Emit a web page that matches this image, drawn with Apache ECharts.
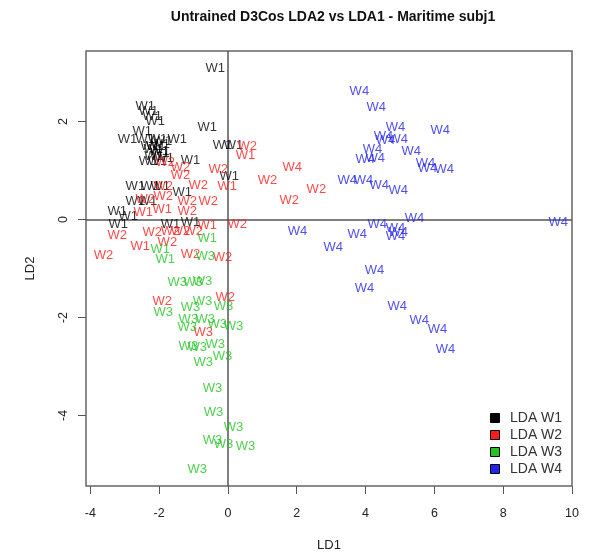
<!DOCTYPE html>
<html>
<head>
<meta charset="utf-8">
<script src="https://cdn.jsdelivr.net/npm/echarts@6/dist/echarts.min.js"></script>
<style>
html,body{margin:0;padding:0;background:#fff;}
#chart{width:593px;height:553px;}
</style>
</head>
<body>
<div id="chart"></div>
<script>
// ---- data: [LD1, LD2, text label] grouped by predicted LDA class (colour) ----
const titleText = 'Untrained D3Cos LDA2 vs LDA1 - Maritime subj1';
const seriesNames = ['LDA W1', 'LDA W2', 'LDA W3', 'LDA W4'];
const xTicks = [-4, -2, 0, 2, 4, 6, 8, 10];
const yTicks = [-4, -2, 0, 2];

const ldaW1 = [
  [-0.37, 3.09, 'W1'], [-2.40, 2.31, 'W1'], [-2.31, 2.21, 'W1'], [-2.20, 2.11, 'W1'],
  [-2.11, 2.01, 'W1'], [-0.60, 1.88, 'W1'], [-2.49, 1.80, 'W1'], [-2.92, 1.64, 'W1'],
  [-2.40, 1.64, 'W1'], [-2.05, 1.64, 'W1'], [-1.47, 1.64, 'W1'], [-2.26, 1.49, 'W1'],
  [-2.17, 1.43, 'W1'], [-1.97, 1.54, 'W1'], [-0.16, 1.51, 'W1'], [0.16, 1.51, 'W1'],
  [-2.31, 1.19, 'W1'], [-2.05, 1.19, 'W1'], [-1.09, 1.21, 'W1'], [-1.97, 1.35, 'W1'],
  [0.04, 0.88, 'W1'], [-2.69, 0.68, 'W1'], [-2.26, 0.68, 'W1'], [-1.97, 0.68, 'W1'],
  [-1.33, 0.55, 'W1'], [-3.22, 0.17, 'W1'], [-2.90, 0.06, 'W1'], [-3.19, -0.10, 'W1'],
  [-1.67, -0.10, 'W1'], [-1.09, -0.06, 'W1'], [-2.69, 0.37, 'W1'], [-2.34, 0.37, 'W1'],
  [-2.10, 1.50, 'W1'], [-2.00, 1.40, 'W1'], [-2.15, 1.28, 'W1'], [-1.90, 1.60, 'W1'],
  [-1.85, 1.25, 'W1']
];
const ldaW2 = [
  [0.56, 1.49, 'W2'], [0.51, 1.31, 'W1'], [1.87, 1.07, 'W4'], [1.15, 0.80, 'W2'],
  [2.57, 0.62, 'W2'], [1.78, 0.39, 'W2'], [-0.28, 1.02, 'W2'], [-0.02, 0.68, 'W1'],
  [-0.86, 0.70, 'W2'], [-0.57, 0.37, 'W2'], [-1.18, 0.37, 'W2'], [-1.82, 1.17, 'W2'],
  [-1.38, 1.07, 'W2'], [-1.38, 0.90, 'W2'], [-1.88, 0.68, 'W2'], [-2.40, 0.41, 'W2'],
  [-1.88, 0.47, 'W2'], [-1.18, 0.17, 'W2'], [-1.91, 0.21, 'W1'], [-2.46, 0.14, 'W1'],
  [0.27, -0.10, 'W2'], [-0.60, -0.12, 'W1'], [-1.01, -0.24, 'W2'], [-1.38, -0.24, 'W2'],
  [-1.67, -0.24, 'W2'], [-1.76, -0.47, 'W2'], [-2.20, -0.26, 'W2'], [-2.55, -0.55, 'W1'],
  [-3.22, -0.33, 'W2'], [-3.62, -0.73, 'W2'], [-1.09, -0.71, 'W2'], [-0.16, -0.78, 'W2'],
  [-1.91, -1.67, 'W2'], [-0.08, -1.59, 'W2'], [-0.72, -2.31, 'W3']
];
const ldaW3 = [
  [-0.60, -0.39, 'W1'], [-1.97, -0.61, 'W1'], [-1.82, -0.82, 'W1'], [-0.66, -0.75, 'W3'],
  [-1.47, -1.29, 'W3'], [-1.01, -1.29, 'W3'], [-0.74, -1.27, 'W3'], [-0.74, -1.67, 'W3'],
  [-0.13, -1.78, 'W3'], [-1.09, -1.80, 'W3'], [-1.88, -1.90, 'W3'], [-1.15, -2.04, 'W3'],
  [-0.66, -2.04, 'W3'], [-0.31, -2.15, 'W3'], [0.16, -2.18, 'W3'], [-1.18, -2.21, 'W3'],
  [-1.15, -2.59, 'W3'], [-0.89, -2.62, 'W3'], [-0.37, -2.55, 'W3'], [-0.16, -2.80, 'W3'],
  [-0.72, -2.92, 'W3'], [-0.45, -3.45, 'W3'], [-0.42, -3.94, 'W3'], [0.16, -4.25, 'W3'],
  [-0.45, -4.50, 'W3'], [-0.13, -4.60, 'W3'], [0.51, -4.64, 'W3'], [-0.89, -5.11, 'W3']
];
const ldaW4 = [
  [3.82, 2.62, 'W4'], [4.31, 2.29, 'W4'], [4.87, 1.88, 'W4'], [6.17, 1.82, 'W4'],
  [4.52, 1.70, 'W4'], [4.58, 1.62, 'W4'], [4.95, 1.64, 'W4'], [5.33, 1.39, 'W4'],
  [4.20, 1.43, 'W4'], [3.99, 1.23, 'W4'], [4.28, 1.25, 'W4'], [5.74, 1.15, 'W4'],
  [5.80, 1.04, 'W4'], [6.29, 1.02, 'W4'], [3.47, 0.80, 'W4'], [3.94, 0.80, 'W4'],
  [4.40, 0.70, 'W4'], [4.95, 0.60, 'W4'], [5.42, 0.02, 'W4'], [4.34, -0.10, 'W4'],
  [4.87, -0.18, 'W4'], [4.95, -0.26, 'W4'], [4.87, -0.35, 'W4'], [3.76, -0.30, 'W4'],
  [3.06, -0.57, 'W4'], [2.02, -0.24, 'W4'], [9.60, -0.06, 'W4'], [4.26, -1.04, 'W4'],
  [3.97, -1.41, 'W4'], [4.92, -1.78, 'W4'], [5.56, -2.06, 'W4'], [6.09, -2.25, 'W4'],
  [6.32, -2.66, 'W4']
];
const groups = [ldaW1, ldaW2, ldaW3, ldaW4];
const colors = ['#000000', '#ff1a1a', '#22c322', '#2323f0'];

const FONT = "'Liberation Sans', Arial, sans-serif";
const chart = echarts.init(document.getElementById('chart'), null, {renderer: 'canvas'});

const series = groups.map((g, i) => ({
  name: seriesNames[i],
  type: 'scatter',
  data: g,
  symbol: 'circle',
  symbolSize: 1,
  itemStyle: {color: 'rgba(0,0,0,0)'},
  label: {
    show: true,
    position: 'inside',
    formatter: p => p.value[2],
    color: colors[i],
    fontSize: 13,
    fontFamily: FONT
  },
  emphasis: {disabled: true},
  z: 3 + i
}));
series[0].markLine = {
  silent: true,
  symbol: 'none',
  animation: false,
  label: {show: false},
  lineStyle: {color: '#555', width: 1.5, type: 'solid'},
  data: [{xAxis: 0}, {yAxis: 0}],
  z: 1
};

const option = {
  animation: false,
  backgroundColor: '#fff',
  title: {
    text: titleText,
    left: 328, top: 5, textAlign: 'center',
    textStyle: {fontSize: 14, fontWeight: 'bold', color: '#111', fontFamily: FONT}
  },
  grid: {
    left: 86, right: 21, top: 51, bottom: 67,
    show: true, borderColor: '#666', borderWidth: 1.5,
    containLabel: false, outerBoundsMode: 'none'
  },
  legend: {
    orient: 'vertical',
    left: 485, top: 406,
    itemWidth: 20, itemHeight: 9, itemGap: 3,
    icon: 'path://M0,0L10,0L10,10L0,10Z',
    textStyle: {fontSize: 14, color: '#333', fontFamily: FONT},
    data: seriesNames.map((n, i) => ({
      name: n,
      itemStyle: {color: colors[i], opacity: 1, borderColor: '#000', borderWidth: 1}
    }))
  },
  xAxis: {
    type: 'value', min: -4.125, max: 10,
    name: 'LD1', nameLocation: 'middle', nameGap: 53,
    nameTextStyle: {fontSize: 13, color: '#222', fontFamily: FONT},
    axisLine: {show: false, onZero: false},
    axisTick: {show: true, inside: false, length: 8, customValues: xTicks, lineStyle: {color: '#555'}},
    axisLabel: {customValues: xTicks, margin: 21, fontSize: 12.5, color: '#222', fontFamily: FONT},
    splitLine: {show: false}
  },
  yAxis: {
    type: 'value', min: -5.44, max: 3.44,
    name: 'LD2', nameLocation: 'middle', nameGap: 49, nameRotate: 90,
    nameTextStyle: {fontSize: 13, color: '#222', fontFamily: FONT},
    axisLine: {show: false, onZero: false},
    axisTick: {show: true, inside: false, length: 8, customValues: yTicks, lineStyle: {color: '#555'}},
    axisLabel: {customValues: yTicks, rotate: 90, margin: 16, fontSize: 12.5, color: '#222', fontFamily: FONT},
    splitLine: {show: false}
  },
  series: series
};
chart.setOption(option);
</script>
</body>
</html>
